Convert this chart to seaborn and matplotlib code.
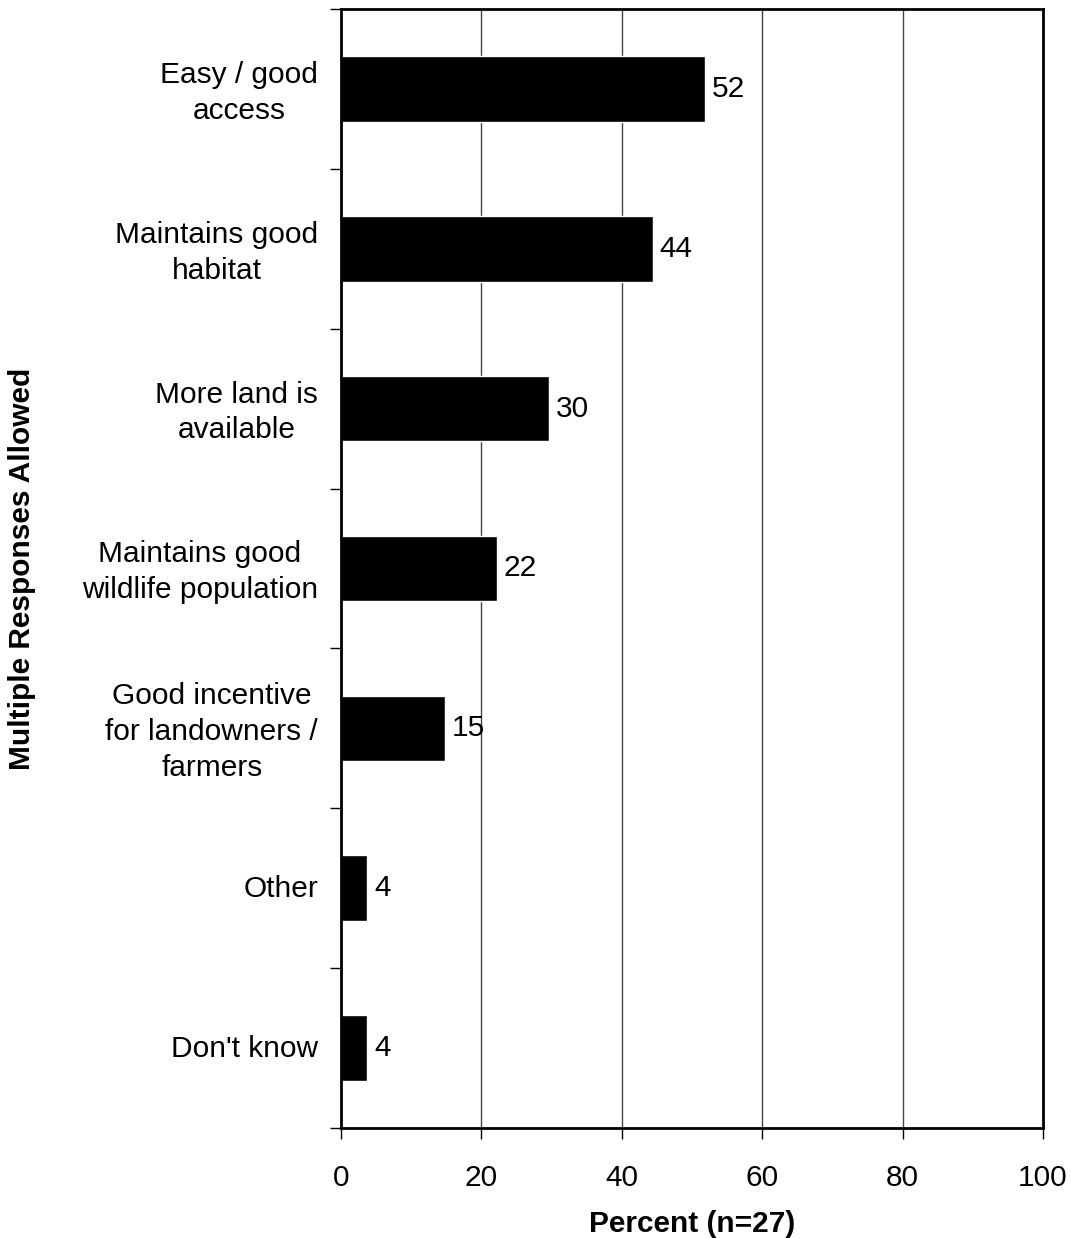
import pandas as pd
import numpy as np
import matplotlib
matplotlib.use("Agg")
import matplotlib.pyplot as plt
import matplotlib.transforms as mtrans
import seaborn as sns

# Reasons (multiple responses allowed), n=27
categories = ["Easy / good\naccess", "Maintains good\nhabitat", "More land is\navailable",
              "Maintains good\nwildlife population", "Good incentive\nfor landowners /\nfarmers",
              "Other", "Don't know"]
percents = [51.9, 44.4, 29.6, 22.2, 14.8, 3.7, 3.7]
xticks = [0, 20, 40, 60, 80, 100]

sns.set_style("white")
plt.rcParams["font.family"] = ["Liberation Sans", "DejaVu Sans"]
plt.rcParams["text.color"] = "black"
plt.rcParams["xtick.color"] = "black"
plt.rcParams["ytick.color"] = "black"
plt.rcParams["axes.labelcolor"] = "black"

FS = 21.5

df = pd.DataFrame({"Reason": categories, "Percent": percents})

fig = plt.figure(figsize=(10.71, 12.38), dpi=100)
ax = fig.add_axes([0.3184, 0.0889, 0.6555, 0.9038])

sns.barplot(data=df, x="Percent", y="Reason", orient="h", color="black",
            width=0.41, saturation=1, ax=ax)

ax.set_xlim(0, 100)
ax.set_ylim(len(categories) - 0.5, -0.5)
ax.set_xticks(xticks)
ax.xaxis.grid(True, color="#444444", linewidth=1)
ax.set_axisbelow(True)

for sp in ax.spines.values():
    sp.set_color("black")
    sp.set_linewidth(2)
    sp.set_visible(True)

ax.tick_params(axis="x", which="major", direction="out", length=8, width=1,
               labelsize=FS, pad=18, bottom=True)
ax.tick_params(axis="y", which="major", length=0, labelsize=FS, pad=16.5)
ax.set_yticks(np.arange(-0.5, len(categories), 1.0), minor=True)
ax.tick_params(axis="y", which="minor", direction="out", length=8, width=1, left=True)

# centre each multi-line category label, keeping its right edge near the axis
for lab in ax.get_yticklabels():
    lab.set_linespacing(1.35)
    lab.set_horizontalalignment("center")
fig.canvas.draw()
renderer = fig.canvas.get_renderer()
for lab in ax.get_yticklabels():
    w = lab.get_window_extent(renderer).width
    dy = 3 if "\n" in lab.get_text() else 2
    lab.set_transform(lab.get_transform()
                      + mtrans.ScaledTranslation(-w / 2 / 100, dy / 100, fig.dpi_scale_trans))

for i, v in enumerate(percents):
    ax.annotate(f"{v:.0f}", xy=(v, i), xytext=(5, 0), textcoords="offset points",
                va="center", ha="left", fontsize=FS)

ax.set_xlabel("Percent (n=27)", fontsize=FS, fontweight="bold", labelpad=13)
ax.set_ylabel("Multiple Responses Allowed", fontsize=FS, fontweight="bold", va="center")
ax.yaxis.set_label_coords(-0.4544, 0.5)

fig.savefig("out.png", dpi=100)
